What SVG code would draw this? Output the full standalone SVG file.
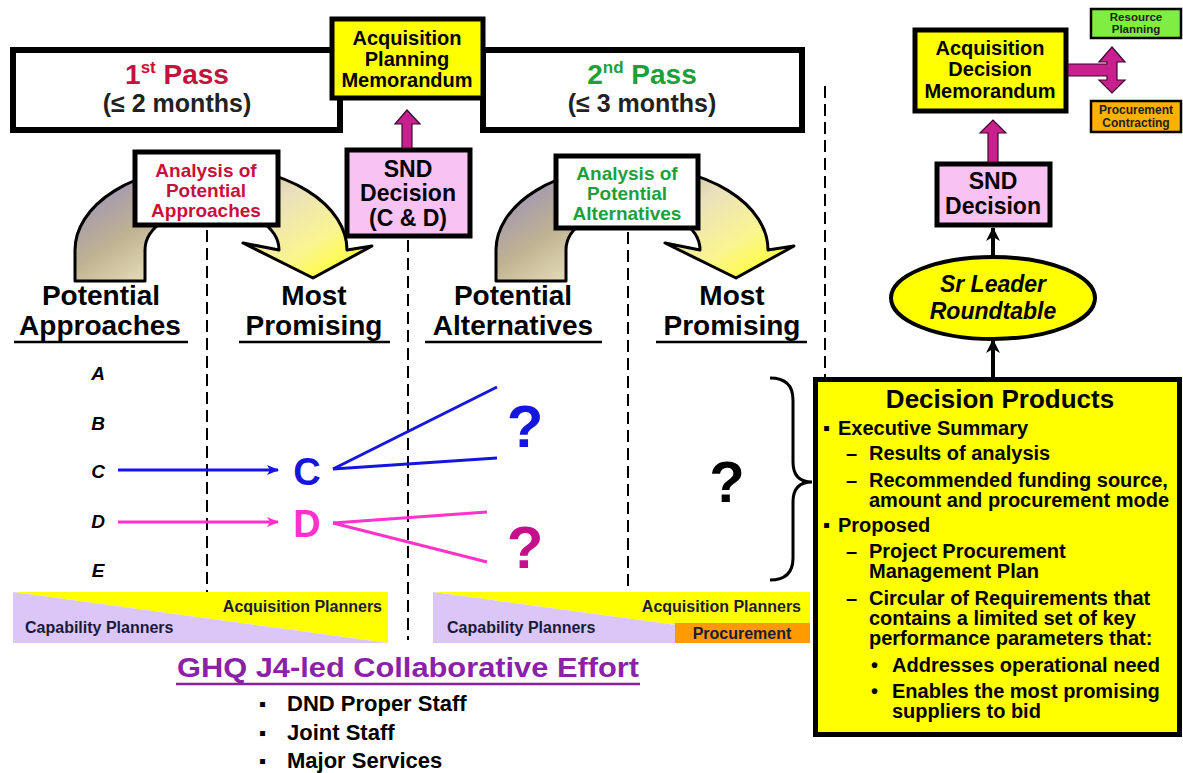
<svg xmlns="http://www.w3.org/2000/svg" width="1183" height="773" viewBox="0 0 1183 773">
<defs>
<linearGradient id="curveGrad" x1="0" y1="0.2" x2="1" y2="0.8">
<stop offset="0" stop-color="#9A90BA"/>
<stop offset="0.3" stop-color="#BFB292"/>
<stop offset="0.55" stop-color="#EAE0BC"/>
<stop offset="0.8" stop-color="#FAF590"/>
<stop offset="1" stop-color="#FFFF30"/>
</linearGradient>
<marker id="blueHead" viewBox="0 0 12 10" refX="11" refY="5" markerWidth="12" markerHeight="10" markerUnits="userSpaceOnUse" orient="auto">
<path d="M0,0 L12,5 L0,10 L3,5 Z" fill="#1515E0"/>
</marker>
<marker id="pinkHead" viewBox="0 0 12 10" refX="11" refY="5" markerWidth="12" markerHeight="10" markerUnits="userSpaceOnUse" orient="auto">
<path d="M0,0 L12,5 L0,10 L3,5 Z" fill="#FF33CC"/>
</marker>
<marker id="blackHead" viewBox="0 0 14 14" refX="13" refY="7" markerWidth="14" markerHeight="14" markerUnits="userSpaceOnUse" orient="auto">
<path d="M0,0 L14,7 L0,14 L4,7 Z" fill="#000"/>
</marker>
</defs>
<style>
text{font-family:"Liberation Sans",Arial,Helvetica,sans-serif;font-weight:bold;}
.box{stroke:#000;stroke-width:5;}
.frame{fill:#fff;stroke:#000;stroke-width:6;}
.dash{stroke:#000;stroke-width:2;stroke-dasharray:12 6;fill:none;}
.mid{text-anchor:middle;}
.hdr{font-size:28px;fill:#000;}
.ul{stroke:#000;stroke-width:2.5;}
.box20{font-size:20px;fill:#000;text-anchor:middle;}
.snd{font-size:23px;fill:#000;text-anchor:middle;}
.ana{font-size:19px;text-anchor:middle;}
.letter{font-size:19px;font-style:italic;fill:#000;text-anchor:middle;}
.dp{font-size:20px;fill:#000;}
.band{font-size:16px;fill:#1A1A3A;}
.mag{fill:#C8208E;stroke:#3A0A2A;stroke-width:1.2;}
</style>

<!-- Pass frames -->
<g id="pass1">
<rect class="frame" x="13" y="50" width="327" height="80"/>
<text class="mid" x="177" y="84" font-size="28" fill="#C8103C">1<tspan font-size="17" dy="-11">st</tspan><tspan dy="11"> Pass</tspan></text>
<text class="mid" x="177" y="112" font-size="25" fill="#222">(≤ 2 months)</text>
</g>
<g id="pass2">
<rect class="frame" x="483" y="50" width="319" height="80"/>
<text class="mid" x="642" y="84" font-size="28" fill="#1E9E3C">2<tspan font-size="17" dy="-11">nd</tspan><tspan dy="11"> Pass</tspan></text>
<text class="mid" x="642" y="112" font-size="25" fill="#222">(≤ 3 months)</text>
</g>

<g id="apm">
<rect class="box" x="332" y="19" width="151" height="79" fill="#FFFF00"/>
<text class="box20" x="407" y="45">Acquisition</text>
<text class="box20" x="407" y="66">Planning</text>
<text class="box20" x="407" y="87">Memorandum</text>
</g>

<!-- Curved arrows -->
<g id="curve1">
<path d="M75,281 L75,250 A136,84 0 0 1 347,250 L372,246 L313,278 L243,243 L279,250 A67,42 0 0 0 145,250 L145,281 Z" fill="url(#curveGrad)" stroke="#000" stroke-width="3" stroke-linejoin="round"/>
</g>
<g id="curve2">
<path d="M496,281 L496,250 A136,84 0 0 1 768,250 L794,246 L736,278 L665,243 L700,250 A67,42 0 0 0 566,250 L566,281 Z" fill="url(#curveGrad)" stroke="#000" stroke-width="3" stroke-linejoin="round"/>
</g>

<g id="analysis1">
<rect class="box" x="135" y="152" width="143" height="73" fill="#fff"/>
<text class="ana" x="206" y="177" fill="#C8103C">Analysis of</text>
<text class="ana" x="206" y="197" fill="#C8103C">Potential</text>
<text class="ana" x="206" y="217" fill="#C8103C">Approaches</text>
</g>
<g id="analysis2">
<rect class="box" x="556" y="156" width="142" height="72" fill="#fff"/>
<text class="ana" x="627" y="180" fill="#1E9E3C">Analysis of</text>
<text class="ana" x="627" y="200" fill="#1E9E3C">Potential</text>
<text class="ana" x="627" y="220" fill="#1E9E3C">Alternatives</text>
</g>

<g id="snd1">
<rect class="box" x="347" y="150" width="123" height="86" fill="#F8C2F2"/>
<text class="snd" x="408" y="177">SND</text>
<text class="snd" x="408" y="201">Decision</text>
<text class="snd" x="408" y="226">(C &amp; D)</text>
</g>

<!-- Dashed dividers -->
<g id="dividers">
<line class="dash" x1="207" y1="230" x2="207" y2="595"/>
<line class="dash" x1="408" y1="240" x2="408" y2="640"/>
<line class="dash" x1="628" y1="232" x2="628" y2="586"/>
<line class="dash" x1="825" y1="86" x2="825" y2="377"/>
</g>

<!-- Column headers -->
<g id="headers">
<text class="hdr mid" x="101" y="305">Potential</text>
<text class="hdr mid" x="100" y="335">Approaches</text>
<line class="ul" x1="14" y1="342" x2="188" y2="342"/>
<text class="hdr mid" x="314" y="305">Most</text>
<text class="hdr mid" x="314" y="335">Promising</text>
<line class="ul" x1="239" y1="342" x2="390" y2="342"/>
<text class="hdr mid" x="513" y="305">Potential</text>
<text class="hdr mid" x="513" y="335">Alternatives</text>
<line class="ul" x1="425" y1="342" x2="602" y2="342"/>
<text class="hdr mid" x="732" y="305">Most</text>
<text class="hdr mid" x="732" y="335">Promising</text>
<line class="ul" x1="656" y1="342" x2="807" y2="342"/>
</g>

<g id="letters">
<text class="letter" x="98" y="380">A</text>
<text class="letter" x="98" y="430">B</text>
<text class="letter" x="98" y="478">C</text>
<text class="letter" x="98" y="528">D</text>
<text class="letter" x="98" y="577">E</text>
</g>

<g id="nodeC">
<text class="mid" x="307" y="485" font-size="38" fill="#1515E0">C</text>
</g>
<g id="nodeD">
<text class="mid" x="307" y="537" font-size="38" fill="#FF33CC">D</text>
</g>
<g id="qBlue"><text class="mid" x="525" y="447" font-size="60" fill="#1515E0">?</text></g>
<g id="qMag"><text class="mid" x="525" y="568" font-size="60" fill="#C4108A">?</text></g>
<g id="qBlack"><text class="mid" x="727" y="502" font-size="58" fill="#000">?</text></g>

<!-- Bands -->
<g id="band1">
<polygon points="13,592 388,592 388,643" fill="#FFFF00"/>
<polygon points="13,592 388,643 13,643" fill="#DCC6F8"/>
<text class="band" x="382" y="612" text-anchor="end">Acquisition Planners</text>
<text class="band" x="25" y="633">Capability Planners</text>
</g>
<g id="band2">
<polygon points="433,592 810,592 810,643" fill="#FFFF00"/>
<polygon points="433,592 810,643 433,643" fill="#DCC6F8"/>
<rect x="675" y="623" width="135" height="20" fill="#FF9A00"/>
<text class="band" x="801" y="612" text-anchor="end">Acquisition Planners</text>
<text class="band" x="447" y="633">Capability Planners</text>
<text class="band mid" x="742" y="639">Procurement</text>
</g>

<g id="ghq">
<text class="mid" x="408" y="677" font-size="27" fill="#8A22A8" textLength="462" lengthAdjust="spacingAndGlyphs">GHQ J4-led Collaborative Effort</text>
<line x1="176" y1="684" x2="640" y2="684" stroke="#8A22A8" stroke-width="2.5"/>
<text x="259" y="711" font-size="20" fill="#000">▪</text>
<text x="287" y="711" font-size="22" fill="#000">DND Proper Staff</text>
<text x="259" y="740" font-size="20" fill="#000">▪</text>
<text x="287" y="740" font-size="22" fill="#000">Joint Staff</text>
<text x="259" y="768" font-size="20" fill="#000">▪</text>
<text x="287" y="768" font-size="22" fill="#000">Major Services</text>
</g>

<!-- Right column -->
<g id="adm">
<rect class="box" x="915" y="30" width="151" height="81" fill="#FFFF00"/>
<text class="box20" x="990" y="55">Acquisition</text>
<text class="box20" x="990" y="76">Decision</text>
<text class="box20" x="990" y="98">Memorandum</text>
</g>
<g id="resource">
<rect x="1091" y="9" width="90" height="29" fill="#80EE40" stroke="#000" stroke-width="2.5"/>
<text class="mid" x="1136" y="21" font-size="11.5" fill="#222">Resource</text>
<text class="mid" x="1136" y="33" font-size="11.5" fill="#222">Planning</text>
</g>
<g id="procurement">
<rect x="1091" y="101" width="90" height="31" fill="#FFB000" stroke="#000" stroke-width="2.5"/>
<text class="mid" x="1136" y="114" font-size="12" fill="#222">Procurement</text>
<text class="mid" x="1136" y="127" font-size="12" fill="#222">Contracting</text>
</g>
<g id="snd2">
<rect class="box" x="937" y="164" width="113" height="61" fill="#F8C2F2"/>
<text class="snd" x="993" y="189">SND</text>
<text class="snd" x="993" y="214">Decision</text>
</g>
<g id="roundtable">
<ellipse cx="993" cy="298" rx="102" ry="41" fill="#FFFF00" stroke="#000" stroke-width="4"/>
<text class="mid" x="993" y="292" font-size="23" font-style="italic" fill="#000">Sr Leader</text>
<text class="mid" x="993" y="319" font-size="23" font-style="italic" fill="#000">Roundtable</text>
</g>

<g id="decisionProducts">
<rect class="box" x="815.5" y="379.5" width="364" height="355" fill="#FFFF00"/>
<text class="mid" x="1000" y="408" font-size="26" fill="#000">Decision Products</text>
<text class="dp" x="823" y="435">▪</text>
<text class="dp" x="838" y="435">Executive Summary</text>
<text class="dp" x="846" y="460">–</text>
<text class="dp" x="869" y="460">Results of analysis</text>
<text class="dp" x="846" y="487">–</text>
<text class="dp" x="869" y="487">Recommended funding source,</text>
<text class="dp" x="869" y="507">amount and procurement mode</text>
<text class="dp" x="823" y="532">▪</text>
<text class="dp" x="838" y="532">Proposed</text>
<text class="dp" x="846" y="558">–</text>
<text class="dp" x="869" y="558">Project Procurement</text>
<text class="dp" x="869" y="578">Management Plan</text>
<text class="dp" x="846" y="605">–</text>
<text class="dp" x="869" y="605">Circular of Requirements that</text>
<text class="dp" x="869" y="625">contains a limited set of key</text>
<text class="dp" x="869" y="645">performance parameters that:</text>
<text class="dp" x="871" y="672">•</text>
<text class="dp" x="892" y="672">Addresses operational need</text>
<text class="dp" x="871" y="698">•</text>
<text class="dp" x="892" y="698">Enables the most promising</text>
<text class="dp" x="892" y="718">suppliers to bid</text>
</g>

<!-- Connectors -->
<g id="connectors">
<line x1="118" y1="470" x2="278" y2="470" stroke="#1515E0" stroke-width="3" marker-end="url(#blueHead)"/>
<line x1="118" y1="522" x2="278" y2="522" stroke="#FF33CC" stroke-width="3" marker-end="url(#pinkHead)"/>
<line x1="333" y1="469" x2="497" y2="387" stroke="#1515E0" stroke-width="3"/>
<line x1="333" y1="469" x2="497" y2="458" stroke="#1515E0" stroke-width="3"/>
<line x1="333" y1="523" x2="487" y2="512" stroke="#FF33CC" stroke-width="3"/>
<line x1="333" y1="523" x2="487" y2="562" stroke="#FF33CC" stroke-width="3"/>
<path d="M770,378 Q793,378 793,400 L793,462 Q793,482 812,482 Q793,482 793,502 L793,558 Q793,580 770,580" fill="none" stroke="#000" stroke-width="3"/>
<polygon class="mag" points="402,148 402,124 395,124 407,110 420,124 412,124 412,148"/>
<polygon class="mag" points="988,162 988,133 980,133 993,120 1006,133 998,133 998,162"/>
<polygon class="mag" points="1068,64 1107,64 1107,62 1099,62 1112,47 1125,62 1117,62 1117,80 1125,80 1112,93 1099,80 1107,80 1107,76 1068,76"/>
<line x1="993" y1="258" x2="993" y2="228" stroke="#000" stroke-width="4" marker-end="url(#blackHead)"/>
<line x1="993" y1="377" x2="993" y2="340" stroke="#000" stroke-width="4" marker-end="url(#blackHead)"/>
</g>
</svg>
